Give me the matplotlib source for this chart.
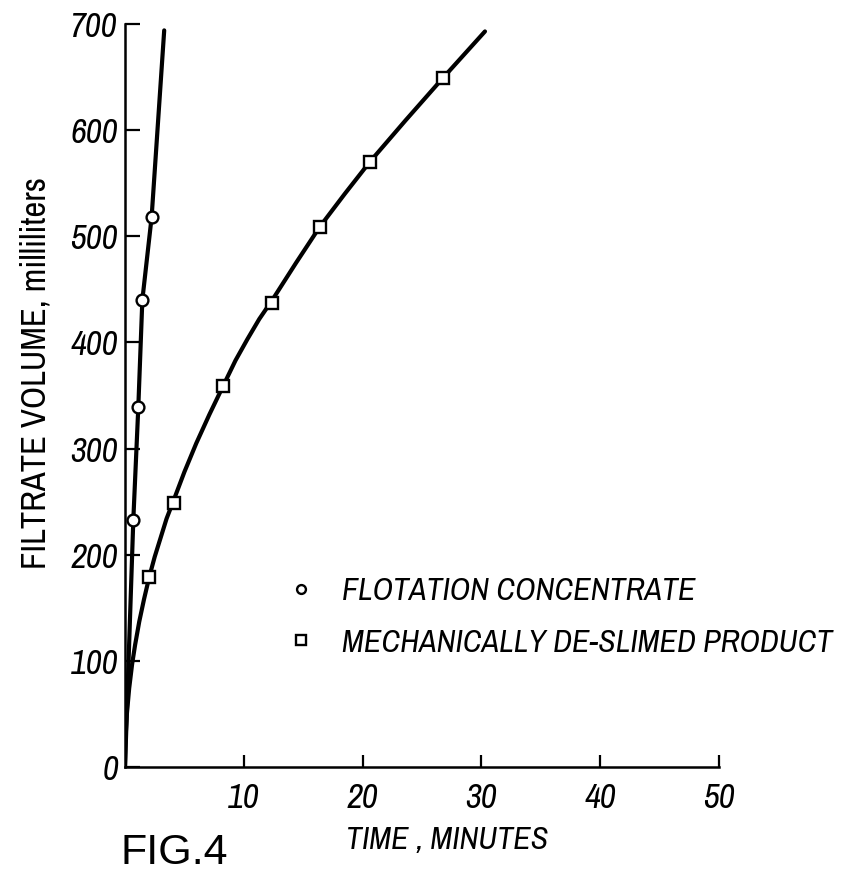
import matplotlib
matplotlib.use('Agg')
from matplotlib import pyplot as plt

#-----------------------------------------------------------------------
#	Values
#-----------------------------------------------------------------------

# flotation concentrate (circles)
flotTime = [0.70, 1.12, 1.46, 2.24]
flotVol = [233, 339, 440, 518]
# line drawn through the circles
flotLineT = [0, 0.70, 1.12, 1.46, 2.24, 3.3]
flotLineV = [0, 233, 339, 440, 518, 694]

# mechanically de-slimed product (squares)
deslTime = [2.04, 4.12, 8.26, 12.4, 16.4, 20.6, 26.75]
deslVol = [179, 249, 359, 437, 509, 570, 649]
# smooth curve drawn through the squares
deslLineT = [0, 0.05, 0.15, 0.35, 0.6, 0.85, 1.2, 1.6, 2.04, 2.5, 3.0, 3.5, 4.12,
	5.0, 6.0, 7.1, 8.26, 9.3, 10.3, 11.3, 12.4, 14.4, 16.4, 18.5, 20.6,
	23.6, 26.75, 30.3]
deslLineV = [0, 28, 49, 74, 97, 115, 137, 158, 179, 198, 216, 234, 252,
	278, 305, 332, 359, 383, 403, 422, 440, 475, 509, 540, 570,
	609, 649, 693]

xTicks = [10, 20, 30, 40, 50]
yTicks = [0, 100, 200, 300, 400, 500, 600, 700]

FONT = ['Archivo Narrow', 'Roboto Condensed', 'DejaVu Sans']

#-----------------------------------------------------------------------
#	Draw the figure
#-----------------------------------------------------------------------

def drawFigure():
	W, H = 842, 875
	fig = plt.figure(figsize=(W / 100, H / 100), dpi=100)
	ax = fig.add_axes([125 / W, (H - 767) / H, (719 - 125) / W, (767 - 24) / H])

	ax.plot(flotLineT, flotLineV, color='black', lw=3, solid_capstyle='round', zorder=2)
	ax.plot(deslLineT, deslLineV, color='black', lw=3, solid_capstyle='round',
		solid_joinstyle='round', zorder=2)
	ax.plot(flotTime, flotVol, 'o', ms=8.5, mfc='white', mec='black', mew=1.7,
		label='FLOTATION CONCENTRATE', zorder=3)
	ax.plot(deslTime, deslVol, 's', ms=9, mfc='white', mec='black', mew=1.7,
		label='MECHANICALLY DE-SLIMED PRODUCT', zorder=3)

	ax.set_xlim(0, 50)
	ax.set_ylim(0, 700)
	ax.set_xticks(xTicks)
	ax.set_yticks(yTicks)
	ax.set_xticklabels([str(t) for t in xTicks])
	ax.set_yticklabels([str(t) for t in yTicks])

	for side in ['top', 'right']:
		ax.spines[side].set_visible(False)
	for side in ['left', 'bottom']:
		ax.spines[side].set_linewidth(1.8)
	ax.tick_params(axis='y', direction='in', length=11, width=1.6, pad=5)
	ax.tick_params(axis='x', direction='in', length=9, width=1.6, pad=11)
	for lab in ax.get_xticklabels() + ax.get_yticklabels():
		lab.set_family(FONT)
		lab.set_style('italic')
		lab.set_fontsize(25)

	ax.set_ylabel('FILTRATE VOLUME, milliliters', family=FONT, fontsize=25)
	ax.yaxis.set_label_coords(-0.123, 0.53)
	ax.set_xlabel('TIME , MINUTES', family=FONT, style='italic', fontsize=23)
	ax.xaxis.set_label_coords((447 - 125) / 594, -0.079)

	ax.legend(loc='upper left', bbox_to_anchor=((288 - 125) / 594, (767 - 577) / 743),
		frameon=False, prop={'family': FONT, 'style': 'italic', 'size': 23, 'weight': 'medium'},
		handlelength=0.8, handletextpad=0.9, labelspacing=0.74,
		borderpad=0, borderaxespad=0, markerscale=0.75)

	fig.text(120 / W, 1 - 853 / H, 'FIG.4', family=['Liberation Sans', 'DejaVu Sans'],
		fontsize=31, ha='left', va='center')

	fig.savefig('out.png', dpi=100)

if __name__ == "__main__":
	drawFigure()
